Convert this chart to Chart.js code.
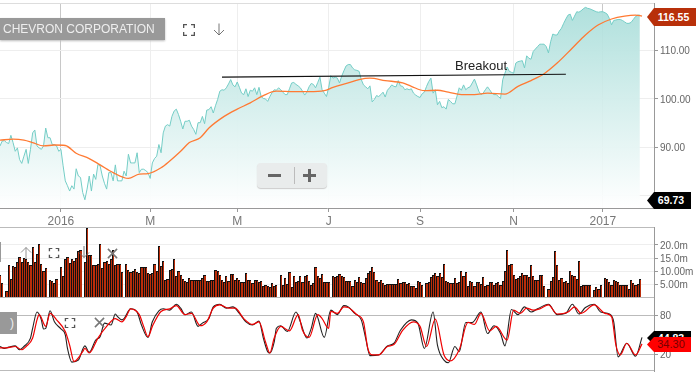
<!DOCTYPE html>
<html lang="en">
<head>
<meta charset="UTF-8"/>
<title>Chevron Corporation</title>
<script src="https://cdn.jsdelivr.net/npm/chart.js"></script>
<style>
  html,body{margin:0;padding:0;background:#fff;overflow:hidden;}
  body{width:696px;height:378px;position:relative;font-family:'Liberation Sans',Arial,sans-serif;}
  canvas{position:absolute;left:0;}
  .abs{position:absolute;}
  .tag{left:0;top:18px;width:165px;height:22px;background:#999;color:#eee;font-size:12px;line-height:22px;text-indent:3px;box-shadow:0 1px 2px #bbb;}
  .note{left:455px;top:58px;font-size:13px;line-height:15px;color:#222;}
  .zoombox{left:257px;top:163px;width:70px;height:25px;background:#e9ecec;border-radius:4px;box-shadow:0 1px 1px #ccc;}
  .flag{left:647px;width:49px;color:#fff;font-weight:bold;font-size:10.5px;text-align:center;padding-left:4px;box-sizing:border-box;
        clip-path:polygon(0 50%,7px 0,100% 0,100% 100%,7px 100%);}
</style>
</head>
<body>
<svg width="0" height="0" style="position:absolute">
  <symbol id="full" viewBox="0 0 12 12"><path d="M0.5 4V0.5H4M8 0.5H11.5V4M11.5 8V11.5H8M4 11.5H0.5V8" fill="none" stroke="#555" stroke-width="1.6"/></symbol>
  <symbol id="down" viewBox="0 0 12 12"><path d="M6 0V11.5M1 6.5L6 11.5L11 6.5" fill="none" stroke="#666" stroke-width="0.9"/></symbol>
  <symbol id="up" viewBox="0 0 12 12"><path d="M6 12V0.5M1 5.5L6 0.5L11 5.5" fill="none" stroke="#888" stroke-width="0.9"/></symbol>
  <symbol id="cross" viewBox="0 0 12 12"><path d="M1 1L11 11M11 1L1 11" fill="none" stroke="#777" stroke-width="1.7"/></symbol>
</svg>

<canvas id="priceChart" width="696" height="227" style="top:0"></canvas>
<canvas id="volChart" width="696" height="71" style="top:227px"></canvas>
<canvas id="stochChart" width="696" height="75" style="top:297px"></canvas>

<div class="abs tag">CHEVRON CORPORATION</div>
<svg class="abs" style="left:183px;top:24px" width="12" height="12"><use href="#full"/></svg>
<svg class="abs" style="left:213px;top:23px" width="12" height="13"><use href="#down"/></svg>
<div class="abs note">Breakout</div>

<div class="abs zoombox">
  <div class="abs" style="left:11px;top:11px;width:13px;height:3px;background:#666"></div>
  <div class="abs" style="left:37px;top:4px;width:1px;height:17px;background:#bbb"></div>
  <div class="abs" style="left:46px;top:11px;width:13px;height:3px;background:#666"></div>
  <div class="abs" style="left:51px;top:6px;width:3px;height:13px;background:#666"></div>
</div>

<svg class="abs" style="left:20px;top:247px" width="12" height="12"><use href="#up"/></svg>
<svg class="abs" style="left:48px;top:248px" width="12" height="10"><use href="#full"/></svg>
<svg class="abs" style="left:78px;top:246px" width="12" height="12"><use href="#down"/></svg>
<svg class="abs" style="left:107px;top:248px" width="11" height="11"><use href="#cross"/></svg>
<div class="abs" style="left:0;top:242px;width:1px;height:20px;background:#999"></div>

<div class="abs" style="left:0;top:312px;width:17px;height:22px;background:#999;color:#eee;font-size:12px;line-height:22px;text-align:right;padding-right:3px;box-sizing:border-box">)</div>
<svg class="abs" style="left:64px;top:318px" width="12" height="10"><use href="#full"/></svg>
<svg class="abs" style="left:94px;top:317px" width="11" height="11"><use href="#cross"/></svg>

<div class="abs flag" style="top:8px;height:18px;line-height:18px;background:#b8300a">116.55</div>
<div class="abs flag" style="top:192px;height:17px;line-height:17px;background:#000;width:44px">69.73</div>
<div class="abs flag" style="top:331px;height:14px;line-height:14px;background:#000;width:44px">44.83</div>
<div class="abs flag" style="top:337px;height:15px;line-height:15px;background:#f00;color:#700;font-weight:normal;font-size:11px;width:44px">34.30</div>

<script>
  // axis ticks
  const tickDays=[28,69,109,151,193,236,277];
  const tickLabels=['2016','M','M','J','S','N','2017'];
  const priceTicks=[80,90,100,110];
  const volTicks=[5,10,15,20];
  const volTickLabels=['5.00m','10.00m','15.0m','20.0m'];
  const stochTicks=[20,80];

  // close, one value per trading day
  const price=[
    90.3,91.3,91.4,91.0,90.8,92.5,91.0,89.2,89.9,87.5,
    86.7,88.2,89.6,86.7,89.6,93.0,93.6,90.3,89.9,89.6,
    90.3,94.0,92.0,92.0,90.6,90.6,90.3,89.2,89.6,86.2,
    83.1,82.1,81.0,82.1,81.4,85.6,84.1,83.8,80.7,79.2,
    81.4,84.1,81.0,84.5,83.4,86.5,86.2,84.1,82.6,81.4,
    84.8,84.8,83.1,86.4,83.1,83.1,83.1,85.1,84.1,88.6,
    86.8,86.8,86.8,88.9,84.8,85.5,85.5,85.2,84.8,83.6,
    86.8,87.7,88.2,90.6,88.9,93.0,94.4,94.7,94.4,96.4,
    97.5,97.9,96.8,95.4,93.8,95.4,95.4,95.6,94.4,93.7,
    92.7,95.1,95.1,96.4,94.9,97.7,97.8,98.4,97.1,98.6,
    99.9,101.6,101.9,101.8,102.3,103.1,104.0,102.9,102.5,103.5,
    102.4,101.2,100.9,102.1,100.5,101.8,101.6,102.3,100.9,102.4,
    100.5,100.1,100.0,99.5,100.5,101.3,101.9,101.8,102.3,101.9,
    101.4,100.9,100.9,102.1,103.3,103.4,103.0,102.7,102.3,101.6,
    100.8,101.4,102.5,103.2,103.0,102.3,103.4,104.5,101.9,101.2,
    100.5,102.3,104.8,104.3,104.5,104.3,103.3,104.7,105.8,106.8,
    107.1,107.1,106.4,106.0,105.9,105.7,104.0,102.9,102.5,102.1,
    102.7,99.4,99.9,100.7,100.5,100.9,101.4,100.4,101.8,102.3,
    102.9,102.6,102.5,103.8,102.7,102.6,101.9,102.1,101.9,102.1,
    101.2,100.8,100.5,100.3,101.1,101.4,102.6,103.6,104.3,101.2,
    101.9,98.8,99.5,98.2,98.4,97.9,99.9,99.5,99.0,99.0,
    100.6,102.3,101.8,102.9,101.9,102.3,102.5,103.3,104.1,102.9,
    101.6,100.9,101.2,101.9,102.5,101.9,101.2,100.9,100.9,100.5,
    100.1,104.0,105.3,106.6,105.7,105.5,105.3,107.4,107.7,107.8,
    107.9,106.4,108.9,108.4,108.2,109.8,110.3,110.8,111.3,111.3,
    111.3,110.8,109.5,111.8,113.4,113.2,113.2,114.0,114.6,115.6,
    116.5,117.3,117.5,116.2,117.1,118.0,117.9,118.2,118.6,118.9,
    118.7,118.6,118.4,118.2,118.0,117.9,118.0,118.0,117.8,117.5,
    116.6,115.3,116.2,116.3,116.4,116.4,116.2,115.9,115.6,115.6,
    115.8,116.4,117.0,117.3,117.3
  ];

  // moving average
  const maDays=[0,6,11,15,20,25,30,35,41,46,52,59,64,68,74,78,83,87,92,96,103,109,115,121,127,135,142,149,153,160,
    165,170,177,185,189,195,201,206,212,218,224,232,238,244,250,256,263,269,275,281,287,292,295];
  const maValues=[91.5,91.7,91.5,91.0,90.3,90.5,90.4,88.8,87.7,86.4,84.8,83.6,84.5,84.6,85.8,87.2,89.2,91.0,92.0,94.0,96.4,97.9,99.2,100.7,101.6,101.5,101.5,101.7,102.4,103.3,
    104.0,104.3,103.8,103.3,102.6,101.7,101.8,101.4,100.9,100.9,101.2,101.0,102.6,103.8,105.2,107.4,110.5,113.2,115.3,116.5,117.1,117.3,117.1];

  // breakout trend line
  const trendDays=[102,260];
  const trendValues=[104.5,105.1];

  // volume in millions, null on days with no bar
  const volume=[
    8.7,5.7,null,2.8,12.4,7.2,12.1,11.6,13.5,15.3,
    13.5,15,14.7,13.5,12.4,19.1,13.5,16.6,20.4,12.8,
    10.3,11.2,null,6.9,6.5,5.7,7.2,null,11.8,8.2,
    14.7,15.3,13.2,14.7,14,15,17.5,18.2,null,13.7,
    26.4,16.2,16,12.4,12.4,12.8,20.4,11.3,13.7,14,
    12.8,14.7,17.9,12.4,12.8,12.8,9.9,null,12.8,10.7,
    9.9,10.3,10.9,9.7,9.5,11.6,11.6,11.6,9.5,9,
    9.5,12.8,10,19.7,12,14,6.9,7.2,10.7,10.9,
    14.7,8.2,10.3,8.5,7.2,6.5,6.2,7.7,6.9,6.8,
    6.8,6.9,6.9,7.4,8.7,6.5,6.5,6.9,6.9,10.7,
    10.3,8.5,6.9,6.2,8.2,6.5,9,9,6.9,7.4,
    6.9,6.2,6.2,9.4,6.9,6.9,5.7,6.9,6.9,6.2,
    6.5,4.7,5,4.6,4,5.7,4.7,5,null,8.5,
    5,7.4,5.2,9.9,4,8.2,6.2,6.5,8.2,6.2,
    8.4,8.7,6.5,4.9,5.7,11.8,8.4,7.4,9,6.2,
    6.2,5.9,null,8.2,7.8,8.2,9,8.2,7.8,6.5,
    6.5,6.5,4.7,6.9,6.2,8,6.2,5.7,7.7,9.4,
    10.3,11.8,9.7,6.9,6.2,6.9,5.7,5,5.3,5.3,
    5.3,5.3,5.3,7.2,5.7,5.9,6.2,5.3,5.7,4.7,
    4.7,3.8,6.5,6.2,4.9,null,5.7,6.2,8,8.7,
    9.4,8.4,9.4,8,12.8,6.5,6.2,5.7,5.7,7.6,
    5.7,6.2,10.3,8.4,9.9,4.7,6.5,6.2,4.7,6.2,
    6.2,5.3,8,4.7,5,6.2,6.2,5,5.7,6.2,
    5,6.5,10.3,17.9,12.4,12.8,8.8,7.2,7.4,8.4,
    9.4,8.7,8.7,8,12.4,8.4,6.9,6.9,8.7,8.7,
    4.7,null,3.5,6.5,7.8,17.5,12.4,6.9,7.4,6.2,
    6.5,5.7,10.3,8.8,8.2,7,14,4.7,5,5,
    5,5,null,3.1,4.3,3.4,5,null,7.7,7.2,
    6.2,5,6.9,6.5,6.2,5,5,5,5,3.4,
    6.9,5.7,5,5.3,7.2
  ];

  // stochastic, black %K
  const kDays=[0,2,4,7,9,11,14,15,17,19,
    20,21,23,25,28,30,31,33,36,39,
    41,44,46,48,51,53,54,56,57,60,
    63,65,68,70,73,75,78,81,83,85,
    88,91,93,96,98,101,104,107,110,113,
    116,119,121,123,124,126,127,129,132,136,
    138,141,143,145,149,152,155,158,160,
    163,166,168,170,174,178,181,184,189,192,
    195,199,201,204,206,209,211,214,217,221,
    224,227,230,232,235,238,241,244,247,252,
    256,260,263,266,269,273,276,280,282,284,
    288,292,295];
  const kValues=[32,29,31,33,27,32,45,60,85,73,
    59,60,87,70,59,50,29,8,11,33,
    23,42,47,68,65,82,78,73,75,90,
    85,65,46,70,87,90,88,97,91,81,
    85,63,68,75,93,97,91,93,83,70,
    65,71,45,24,22,39,60,64,55,85,
    70,45,60,83,46,88,81,95,93,
    83,73,45,18,19,33,37,57,73,68,
    29,85,34,11,7,32,24,69,69,85,
    52,64,52,33,89,81,93,85,90,97,
    81,83,97,82,92,97,85,82,70,16,
    37,17,46];

  // stochastic, red %D
  const dDays=[0,3,7,10,12,15,17,18,21,23,
    26,30,32,34,38,39,41,45,49,53,
    56,58,60,64,66,68,70,74,78,81,
    85,88,92,95,98,101,105,108,112,116,
    119,122,124,126,129,133,137,139,142,146,
    148,151,152,155,158,160,
    164,167,169,171,174,178,181,185,190,193,
    196,200,204,207,211,215,218,221,225,228,
    233,236,239,242,245,248,252,256,261,264,
    267,273,278,281,283,285,288,292,295];
  const dValues=[30,30,32,27,32,45,73,81,63,83,
    73,55,34,9,24,29,22,45,63,75,
    70,78,90,81,63,47,63,86,90,95,
    81,83,64,70,91,96,91,91,75,66,
    70,39,22,45,63,56,81,57,46,81,
    75,60,86,83,93,92,
    81,70,29,19,19,32,35,57,70,63,
    32,74,19,10,27,69,66,83,56,63,
    42,88,83,91,88,90,96,82,85,93,
    83,96,83,78,34,19,37,19,36];

  const xMax=300.5, barPitch=654/xMax;
  const sideWidth=42;
  const xy=(xs,ys)=>xs.map((x,i)=>({x:x,y:ys[i]}));
  // no label overhang padding, panels have to butt against each other
  const noPad=s=>{s.paddingTop=0;s.paddingBottom=0;s.paddingLeft=0;s.paddingRight=0;};
  const fixWidth=s=>{s.width=sideWidth;noPad(s);};

  // light lines along the top / bottom of a panel
  const frame={id:'frame',afterDraw(c,args,o){
    const a=c.chartArea,ctx=c.ctx;
    ctx.save();ctx.strokeStyle=o.color;ctx.lineWidth=1;ctx.beginPath();
    ctx.moveTo(0,Math.round(a.top)+.5);ctx.lineTo(a.right,Math.round(a.top)+.5);
    if(o.bottom){ctx.moveTo(0,Math.round(a.bottom)-.5);ctx.lineTo(a.right,Math.round(a.bottom)-.5);}
    ctx.stroke();ctx.restore();
  }};
  // snap the narrow bars to whole pixels, otherwise fill and border blur into each other
  const snapBars={id:'snapBars',beforeDatasetsDraw(c){
    c.getDatasetMeta(0).data.forEach(el=>{
      const l=Math.round(el.x-el.width/2),r=Math.round(el.x+el.width/2);
      el.x=(l+r)/2;el.width=r-l;el.y=Math.round(el.y);
    });
  }};
  Chart.register(frame);
  Chart.defaults.font.family="'Liberation Sans',Arial,sans-serif";
  Chart.defaults.color='#777';
  Chart.defaults.animation=false;

  const hiddenX={type:'linear',display:false,min:0,max:xMax,offset:false,grid:{offset:false}};
  const sideAxis=(min,max,ticks,fmt,gridColor)=>({
    position:'right',min:min,max:max,afterFit:fixWidth,
    afterBuildTicks(s){s.ticks=ticks.map(v=>({value:v}));},
    ticks:{autoSkip:false,padding:2,labelOffset:1,font:{size:10},color:'#666',callback:fmt},
    grid:{color:gridColor,tickColor:'#999',tickLength:4},
    border:{display:true,color:'#999'}
  });
  const basePlugins=(color,bottom)=>({legend:{display:false},tooltip:{enabled:false},frame:{color:color,bottom:bottom}});

  new Chart(document.getElementById('priceChart'),{
    type:'line',
    data:{datasets:[
      {data:xy(trendDays,trendValues),borderColor:'#111',borderWidth:1.2,pointRadius:0},
      {data:xy(maDays,maValues),borderColor:'#ff7a33',borderWidth:1.3,pointRadius:0,cubicInterpolationMode:'monotone'},
      {data:price.map((v,i)=>({x:i,y:v})),borderColor:'#74cdc6',borderWidth:1,pointRadius:0,fill:'start',
       backgroundColor(c){
         const a=c.chart.chartArea;
         if(!a)return 'transparent';
         const g=c.chart.ctx.createLinearGradient(0,a.top,0,a.bottom);
         g.addColorStop(0,'rgba(170,222,218,0.95)');
         g.addColorStop(1,'rgba(255,255,255,0.95)');
         return g;
       }}
    ]},
    options:{responsive:false,layout:{autoPadding:false,padding:{top:3,left:0}},
      plugins:basePlugins('#ddd',false),
      scales:{
        x:{type:'linear',min:0,max:xMax,
          afterBuildTicks(s){s.ticks=tickDays.map(v=>({value:v}));},
          afterFit(s){s.height=19;noPad(s);},
          ticks:{autoSkip:false,maxRotation:0,padding:2,font:{size:12},color:'#777',
            callback:(v,i)=>tickLabels[i]},
          grid:{color:c=>(c.index===0||c.index===6)?'#c8c8c8':'#eeeeee',tickColor:'#999',tickLength:4},
          border:{display:true,color:'#999'}},
        y:sideAxis(77.5,119.8,priceTicks,v=>v===80?'':v.toFixed(2),'#eeeeee')
      }}
  });

  new Chart(document.getElementById('volChart'),{
    type:'bar',
    plugins:[snapBars],
    data:{datasets:[{data:volume.map((v,i)=>({x:i,y:v})),backgroundColor:'#bb2d0a',borderColor:'#111',
      borderWidth:{left:1,top:1,right:0,bottom:0},borderSkipped:false,barThickness:barPitch,inflateAmount:0}]},
    options:{responsive:false,layout:{autoPadding:false,padding:0},
      plugins:basePlugins('#bbb',false),
      scales:{x:hiddenX,
        y:sideAxis(0,26.7,volTicks,(v,i)=>volTickLabels[i],'#eeeeee')}}
  });

  new Chart(document.getElementById('stochChart'),{
    type:'line',
    data:{datasets:[
      {data:xy(dDays,dValues),borderColor:'#f00000',borderWidth:1.2,pointRadius:0,cubicInterpolationMode:'monotone'},
      {data:xy(kDays,kValues),borderColor:'#222',borderWidth:1.1,pointRadius:0,cubicInterpolationMode:'monotone'}
    ]},
    options:{responsive:false,layout:{autoPadding:false,padding:{bottom:1}},
      plugins:basePlugins('#bbb',true),
      scales:{x:hiddenX,
        y:sideAxis(-5.7,108.2,stochTicks,v=>String(v),'#bbbbbb')}}
  });
</script>
</body>
</html>
